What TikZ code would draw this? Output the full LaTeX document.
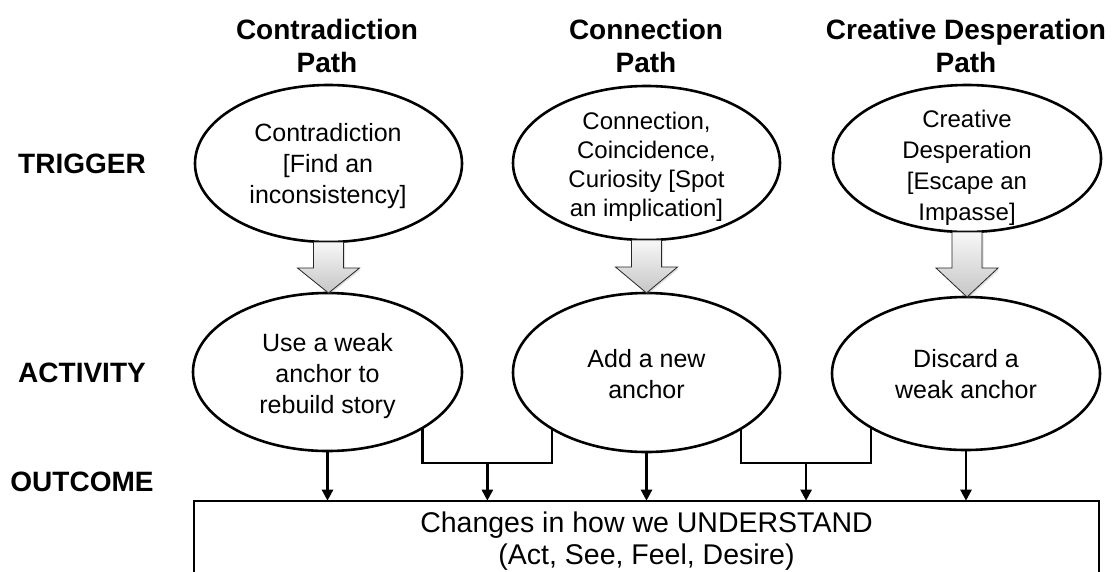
\documentclass[tikz,border=0pt]{standalone}
\usepackage{fontspec}
\setmainfont{Liberation Sans}
\usetikzlibrary{shapes.geometric,arrows.meta,calc,shadows}
\begin{document}
\begin{tikzpicture}[x=1pt,y=-1pt,
  ell/.style={ellipse, draw, line width=2.6pt, inner sep=0pt, outer sep=0pt},
  etxt/.style={align=center, inner sep=0pt, font=\fontsize{25}{31}\selectfont},
  etxtsmall/.style={align=center, inner sep=0pt, font=\fontsize{24}{29}\selectfont},
  coltitle/.style={align=center, inner sep=0pt, font=\fontsize{28}{33}\selectfont\bfseries},
  rowlabel/.style={inner sep=0pt, font=\fontsize{28}{33}\selectfont\bfseries},
  barrow/.style={draw=black!85, line width=0.8pt, top color=gray!6, bottom color=gray!45,
    drop shadow={opacity=0.25, shadow xshift=1.5pt, shadow yshift=-1.5pt}},
  conn/.style={line width=2.4pt},
  tip/.style={-{Triangle[width=11pt,length=11pt]}}
]
\useasboundingbox (0,0) rectangle (1115,571);

% column titles
\node[coltitle] (h1) at (327,46) {Contradiction\\Path};
\node[coltitle] (h2) at (646,46) {Connection\\Path};
\node[coltitle] (h3) at (966,46) {Creative Desperation\\Path};

% row labels
\node[rowlabel] (r1) at (82,164) {TRIGGER};
\node[rowlabel] (r2) at (82,373) {ACTIVITY};
\node[rowlabel] (r3) at (82,482) {OUTCOME};

% trigger ellipses
\node[ell, minimum width=267pt, minimum height=157pt] (t1) at (328.5,163.5) {};
\node[ell, minimum width=267pt, minimum height=154pt] (t2) at (646.5,163) {};
\node[ell, minimum width=268pt, minimum height=147pt] (t3) at (967,158.5) {};
\node[etxt] (t1t) at (328,166.5) {Contradiction\\{[Find an}\\inconsistency]};
\node[etxtsmall] (t2t) at (646.5,167) {Connection,\\Coincidence,\\Curiosity [Spot\\an implication]};
\node[etxtsmall, font=\fontsize{24}{31}\selectfont] (t3t) at (967,168) {Creative\\Desperation\\{[Escape an}\\Impasse]};

% activity ellipses
\node[ell, minimum width=269pt, minimum height=158pt] (a1) at (327.5,372) {};
\node[ell, minimum width=267pt, minimum height=159pt] (a2) at (646.5,372.5) {};
\node[ell, minimum width=268pt, minimum height=153pt] (a3) at (966,373.5) {};
\node[etxt] (a1t) at (327.5,376.5) {Use a weak\\anchor to\\rebuild story};
\node[etxt] (a2t) at (646.5,374.5) {Add a new\\anchor};
\node[etxt] (a3t) at (966,374.5) {Discard a\\weak anchor};

% block arrows
\path[barrow] let \p1=(t1.south), \p2=(a1.north) in
  (\x1-15pt,\y1) -- (\x1+15pt,\y1) -- (\x1+15pt,\y2+25pt) -- (\x1+31pt,\y2+25pt)
  -- (\x1,\y2) -- (\x1-31pt,\y2+25pt) -- (\x1-15pt,\y2+25pt) -- cycle;
\path[barrow] let \p1=(t2.south), \p2=(a2.north) in
  (\x1-15pt,\y1) -- (\x1+15pt,\y1) -- (\x1+15pt,\y2+26pt) -- (\x1+31pt,\y2+26pt)
  -- (\x1,\y2) -- (\x1-31pt,\y2+26pt) -- (\x1-15pt,\y2+26pt) -- cycle;
\path[barrow] let \p1=(t3.south), \p2=(a3.north) in
  (\x1-15pt,\y1) -- (\x1+15pt,\y1) -- (\x1+15pt,\y2+29pt) -- (\x1+31pt,\y2+29pt)
  -- (\x1,\y2) -- (\x1-31pt,\y2+29pt) -- (\x1-15pt,\y2+29pt) -- cycle;

% outcome box
\begin{scope}
  \clip (0,0) rectangle (1115,571);
  \node[draw, line width=2.4pt, anchor=north west, minimum width=905pt, minimum height=82pt,
        inner sep=0pt, outer sep=0pt] (box) at (194,500.7) {};
\end{scope}
\node[align=center, inner sep=0pt, font=\fontsize{28.5}{32}\selectfont] (boxt) at (646.5,540.7)
  {Changes in how we UNDERSTAND\\(Act, See, Feel, Desire)};

% connectors
\coordinate (bry) at (0,463);
\draw[conn] (a1.south east) |- (bry -| a2.south west) -- (a2.south west);
\draw[conn] (a2.south east) |- (bry -| a3.south west) -- (a3.south west);
\path (a1.south east) -- (a2.south west) coordinate[pos=0.5] (m1x);
\path (a2.south east) -- (a3.south west) coordinate[pos=0.5] (m2x);
\coordinate (m1) at (m1x |- bry);
\coordinate (m2) at (m2x |- bry);
\draw[conn,tip] (a1.south) -- (a1.south |- box.north);
\draw[conn,tip] (m1) -- (m1 |- box.north);
\draw[conn,tip] (a2.south) -- (a2.south |- box.north);
\draw[conn,tip] (m2) -- (m2 |- box.north);
\draw[conn,tip] (a3.south) -- (a3.south |- box.north);
\end{tikzpicture}
\end{document}
